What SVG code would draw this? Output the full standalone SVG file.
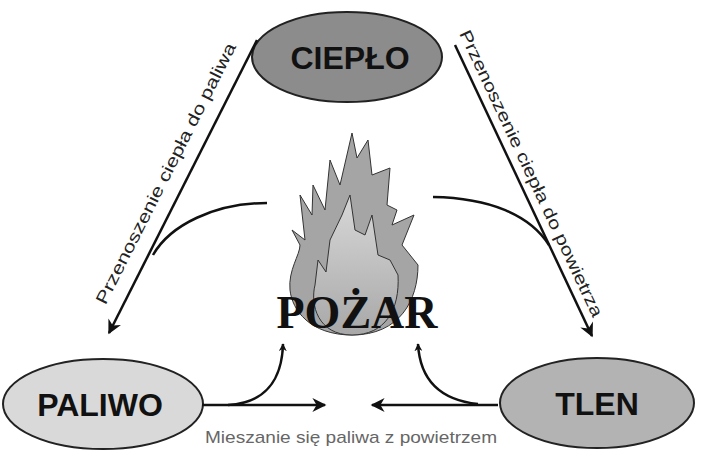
<svg xmlns="http://www.w3.org/2000/svg" width="702" height="459" viewBox="0 0 702 459">
<defs>
<marker id="ah" viewBox="0 0 10 10" refX="9" refY="5" markerWidth="8" markerHeight="8" markerUnits="userSpaceOnUse" orient="auto"><path d="M0,0 L10,5 L0,10 L3,5 Z" fill="#111"/></marker>
<marker id="ahb" viewBox="0 0 10 10" refX="9" refY="5" markerWidth="18" markerHeight="14" markerUnits="userSpaceOnUse" orient="auto"><path d="M0,0 L10,5 L0,10 L3,5 Z" fill="#111"/></marker>
<linearGradient id="fg" x1="0" y1="0" x2="0" y2="1"><stop offset="0" stop-color="#d8d8d8"/><stop offset="1" stop-color="#a8a8a8"/></linearGradient>
</defs>
<style>
.n{stroke:#222;stroke-width:2}
.t{font-family:"Liberation Sans",Arial,sans-serif;font-weight:bold;font-size:32px;fill:#111;text-anchor:middle}
.l{font-family:"Liberation Sans",Arial,sans-serif;font-size:17px;fill:#222;text-anchor:middle}
.c{fill:none;stroke:#111;stroke-width:2.5}
</style>
<rect width="702" height="459" fill="#fff"/>
<g id="flame">
<path d="M352,335 C310,335 292,310 290,290 C288,270 300,255 300,245 L292,230 L305,240 L300,195 L312,215 L313,185 L325,210 L330,160 L340,185 L352,133 L357,158 L368,140 L372,175 L390,168 L387,205 L397,210 L392,225 L414,215 L402,245 L418,265 C418,300 400,335 352,335 Z" fill="#a5a5a5" stroke="#333" stroke-width="1"/>
<path d="M352,335 C318,335 310,305 315,285 L318,260 L326,272 L330,240 L342,215 L350,195 L355,230 L365,235 L372,215 L378,255 L390,260 L398,275 C400,310 385,335 352,335 Z" fill="url(#fg)" stroke="#333" stroke-width="1"/>
<text x="357" y="328" font-family="Liberation Serif,'Times New Roman',serif" font-weight="bold" font-size="46" text-anchor="middle" fill="#111">POŻAR</text>
</g>
<g id="cieplo"><ellipse class="n" cx="347" cy="57" rx="95" ry="45" fill="#8c8c8c"/><text class="t" x="350" y="69">CIEPŁO</text></g>
<g id="paliwo"><ellipse class="n" cx="103" cy="404" rx="100" ry="45" fill="#d9d9d9"/><text class="t" x="100" y="416">PALIWO</text></g>
<g id="tlen"><ellipse class="n" cx="597" cy="403" rx="97" ry="45" fill="#b3b3b3"/><text class="t" x="597" y="415">TLEN</text></g>
<g id="connectors">
<line class="c" x1="257" y1="40" x2="109" y2="333" stroke-width="2" marker-end="url(#ahb)"/>
<line class="c" x1="455" y1="45" x2="592" y2="336" stroke-width="2" marker-end="url(#ahb)"/>
<path class="c" d="M267,203 C215,203 170,225 153,255"/>
<path class="c" d="M433,197 C490,198 530,215 549,245"/>
<path class="c" d="M202,405 L325,405" marker-end="url(#ahb)"/>
<path class="c" d="M498,405 L372,405" marker-end="url(#ahb)"/>
<path class="c" d="M228,405 C265,403 282,380 283,344" marker-end="url(#ah)"/>
<path class="c" d="M478,404 C440,400 420,380 418,344" marker-end="url(#ah)"/>
<text class="l" transform="translate(171,176) rotate(-63.2)" textLength="290" lengthAdjust="spacingAndGlyphs">Przenoszenie ciepła do paliwa</text>
<text class="l" transform="translate(526,176) rotate(64.8)" textLength="315" lengthAdjust="spacingAndGlyphs">Przenoszenie ciepła do powietrza</text>
<text class="l" x="351" y="443" style="fill:#666" textLength="292" lengthAdjust="spacingAndGlyphs">Mieszanie się paliwa z powietrzem</text>
</g>
</svg>
